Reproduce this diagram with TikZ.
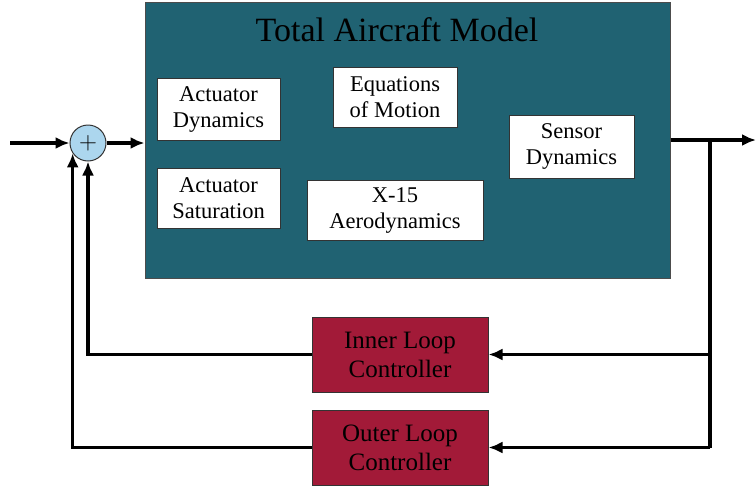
\documentclass[tikz,border=0pt]{standalone}
\usepackage{fontspec}
\setmainfont{Liberation Serif}
\usetikzlibrary{arrows.meta}
\definecolor{panel}{RGB}{32,98,114}
\definecolor{ctrl}{RGB}{162,26,56}
\definecolor{sumfill}{RGB}{172,214,238}
\tikzset{
  blk/.style={draw=black!80,fill=white,line width=1pt,align=center,inner sep=0pt,
    font=\fontsize{22.5}{26}\selectfont},
  ctl/.style={draw=black!80,fill=ctrl,line width=1pt,align=center,inner sep=0pt,
    minimum width=176pt,minimum height=75pt,font=\fontsize{25}{29}\selectfont},
  sig/.style={line width=3.5pt,-{Latex[length=14pt,width=12pt]}},
  wire/.style={line width=3.5pt}
}
\begin{document}
\begin{tikzpicture}[x=1pt,y=-1pt]
\useasboundingbox (0,0) rectangle (756,488);
% plant
\node[draw=black!70,fill=panel,line width=1pt,minimum width=525pt,minimum height=276pt] (model) at (407.5,140) {};
\node[font=\fontsize{34}{38}\selectfont] (title) at (397,30) {Total Aircraft Model};
\node[blk,minimum width=123pt,minimum height=62pt] (actdyn) at (218.5,109) {Actuator\\Dynamics};
\node[blk,minimum width=124pt,minimum height=60pt] (eom) at (395,97) {Equations\\of Motion};
\node[blk,minimum width=123pt,minimum height=60pt] (actsat) at (218.5,198) {Actuator\\Saturation};
\node[blk,minimum width=176pt,minimum height=60pt] (aero) at (395,210) {X-15\\Aerodynamics};
\node[blk,minimum width=125pt,minimum height=63pt] (sensor) at (571.5,146.5) {Sensor\\Dynamics};
% controllers
\node[ctl] (inner) at (400,354.5) {Inner Loop\\Controller};
\node[ctl] (outer) at (400,447.5) {Outer Loop\\Controller};
% summing junction
\node[circle,draw=black!80,fill=sumfill,line width=1pt,minimum size=36pt,inner sep=0pt,
  font=\fontsize{26}{26}\selectfont] (sum) at (88,143) {$+$};
\coordinate (in) at (10,143);
\coordinate (out) at (756,140);
\coordinate (branch) at (710,140);

\draw[sig] (in) -- (sum);
\draw[sig] (sum) -- (sum -| model.west);
\draw[sig] (model.east) -- (out);
\draw[wire] (branch) -- (branch |- outer.east);
\draw[sig] (branch |- inner.east) -- (inner.east);
\draw[sig] (branch |- outer.east) -- (outer.east);
\draw[sig] (inner.west) -| (sum.south);
\draw[sig] (outer.west) -| (sum.214);
\end{tikzpicture}
\end{document}
